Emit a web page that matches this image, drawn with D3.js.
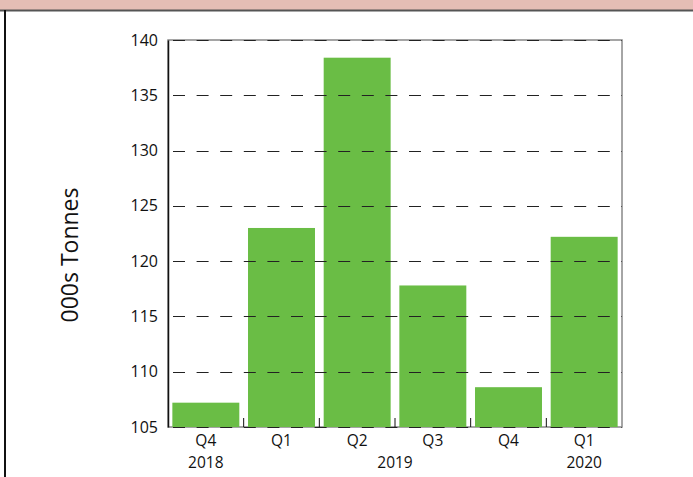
<!DOCTYPE html>
<html><head><meta charset="utf-8">
<script src="https://cdn.jsdelivr.net/npm/d3@7"></script>
<style>body{margin:0;background:#fff;} svg{display:block;}</style>
</head><body>
<script>
const categories = ["Q4 2018","Q1 2019","Q2 2019","Q3 2019","Q4 2019","Q1 2020"];
const quarterLabels = ["Q4","Q1","Q2","Q3","Q4","Q1"];
const years = [
  {label:"2018", first:"Q4 2018", last:"Q4 2018"},
  {label:"2019", first:"Q1 2019", last:"Q4 2019"},
  {label:"2020", first:"Q1 2020", last:"Q1 2020"}
];
const values = [107.2, 123.0, 138.4, 117.8, 108.6, 122.2];
const yTicks = [105,110,115,120,125,130,135,140];

const W = 693, H = 477;
const svg = d3.select("body").append("svg").attr("width", W).attr("height", H);

// header band
svg.append("rect").attr("x",0).attr("y",0).attr("width",W).attr("height",10).attr("fill","#e4bdb5");
svg.append("line").attr("x1",0).attr("x2",W).attr("y1",10.5).attr("y2",10.5).attr("stroke","#555").attr("stroke-width",2);
svg.append("line").attr("x1",5).attr("x2",5).attr("y1",10).attr("y2",H).attr("stroke","#111").attr("stroke-width",2);

const m = {l:168, r:622, t:40, b:427};
const x = d3.scaleBand().domain(categories).range([m.l, m.r]).paddingInner(0.115).paddingOuter(0.0575);
const y = d3.scaleLinear().domain([105,140]).range([m.b, m.t]);
const font = "'Open Sans', 'Liberation Sans', sans-serif";
const fs = 15.5;

// frame right/top gray
svg.append("rect").attr("x",m.l).attr("y",m.t).attr("width",m.r-m.l).attr("height",m.b-m.t)
  .attr("fill","none").attr("stroke","#888").attr("stroke-width",1.5);

// bars
svg.selectAll("rect.bar").data(values).enter().append("rect").attr("class","bar")
  .attr("x",(d,i)=>x(categories[i])).attr("width",x.bandwidth())
  .attr("y",d=>y(d)).attr("height",d=>y(105)-y(d)).attr("fill","#6abd45");

// gridlines (dashed, over bars)
svg.append("g").selectAll("line").data(yTicks).enter().append("line")
  .attr("x1",m.l).attr("x2",m.r).attr("y1",d=>Math.round(y(d))+0.5).attr("y2",d=>Math.round(y(d))+0.5)
  .attr("stroke","#222").attr("stroke-width",1).attr("stroke-dasharray","12,11.6")
  .attr("stroke-dashoffset",-5);

// y axis
const yAxis = d3.axisLeft(y).tickValues(yTicks).tickSize(0).tickPadding(10);
const gy = svg.append("g").attr("transform",`translate(${m.l},0)`).call(yAxis);
gy.select(".domain").attr("stroke","#111").attr("stroke-width",1.5);
gy.selectAll("text").attr("font-family",font).attr("font-size",16).attr("fill","#111");

// x ticks at category boundaries (inward)
const bounds = categories.slice(1).map(c => x(c) - x.step()*x.paddingInner()/2);
svg.append("g").selectAll("line").data(bounds).enter().append("line")
  .attr("x1",d=>d).attr("x2",d=>d).attr("y1",m.b).attr("y2",m.b-9).attr("stroke","#111").attr("stroke-width",1);

// x labels
const xl = svg.append("g");
xl.selectAll("text.q").data(categories).enter().append("text")
  .attr("x",c=>x(c)+x.bandwidth()/2).attr("y",446).attr("text-anchor","middle")
  .attr("font-family",font).attr("font-size",fs).attr("fill","#111")
  .text((c,i)=>quarterLabels[i]);
xl.selectAll("text.yr").data(years).enter().append("text")
  .attr("x",d=>(x(d.first)+x(d.last)+x.bandwidth())/2).attr("y",468).attr("text-anchor","middle")
  .attr("font-family",font).attr("font-size",fs).attr("fill","#111")
  .text(d=>d.label);

// y label
svg.append("text").attr("transform","translate(78,255) rotate(-90)").attr("text-anchor","middle")
  .attr("font-family",font).attr("font-size",23).attr("fill","#111").text("000s Tonnes");
</script>
</body></html>
